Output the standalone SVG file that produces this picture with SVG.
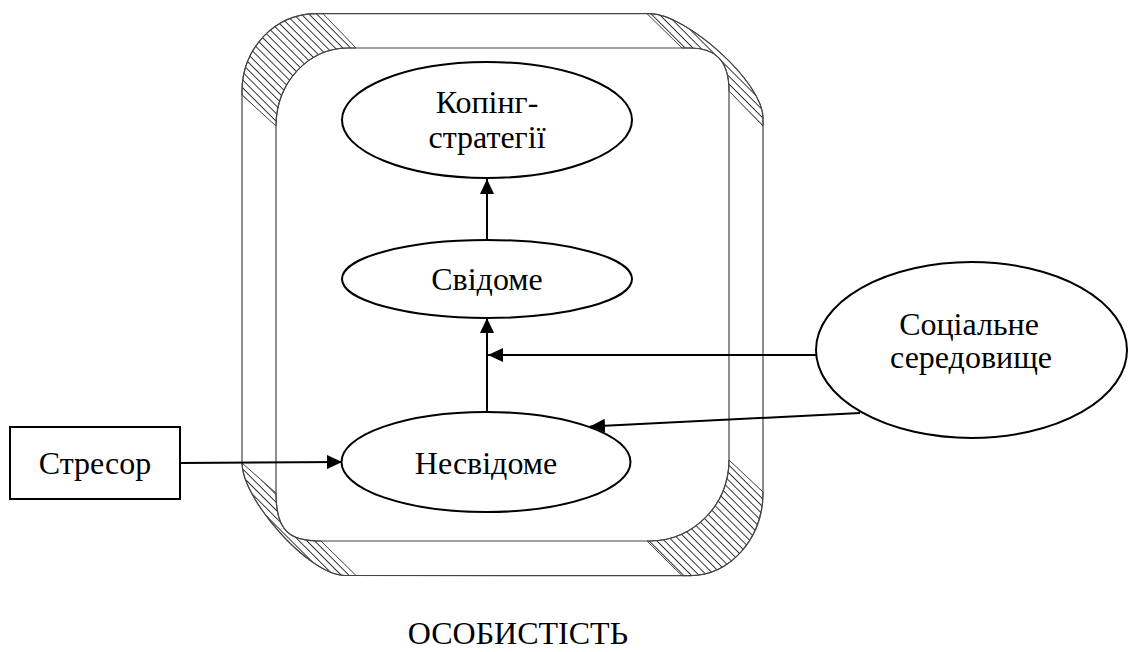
<svg xmlns="http://www.w3.org/2000/svg" width="1128" height="652" viewBox="0 0 1128 652">
  <style>
    .frame { fill: none; stroke: #444; stroke-width: 1.2; }
    .hatch { fill: url(#hatch); stroke: #444; stroke-width: 1; }
    .node { fill: #fff; stroke: #000; stroke-width: 2; }
    .edge { fill: none; stroke: #000; stroke-width: 2; marker-end: url(#arrow); }
    .label { font-family: "Liberation Serif", "Times New Roman", serif; font-size: 32px; fill: #000; text-anchor: middle; }
  </style>
  <defs>
    <pattern id="hatch" patternUnits="userSpaceOnUse" width="5.5" height="5.5" patternTransform="rotate(45)">
      <line x1="0" y1="0.5" x2="5.5" y2="0.5" stroke="#222" stroke-width="0.9"/>
    </pattern>
    <marker id="arrow" markerUnits="userSpaceOnUse" markerWidth="16" markerHeight="14" refX="15" refY="7" orient="auto">
      <path d="M0,0 L15,7 L0,14 Z" fill="#000"/>
    </marker>
  </defs>

  <!-- personality frame: outer and inner rounded outlines with hatched corners -->
  <g id="frame">
    <path class="hatch" d="M323,13.7 L316,13.7 C275,13.7 242,48.6 242,91 L242,95 L276,126 C276,83 308,48 348,48 L356,48 Z"/>
    <path class="hatch" d="M647,13.7 L650,13.7 C686,13.7 763,82 763,118 L763,126 L729,91 C729,60 715,48 690,48 L682,48 Z"/>
    <path class="hatch" d="M242,463 C242,499 309,575.5 345,575.5 L356,575.5 L321,541 C291,541 276,533 276,493 Z"/>
    <path class="hatch" d="M647,541 L650,541 C693.5,541 729,504.5 729,460 L763,492 L763,493 C763,538.5 730,575.7 690,575.7 L682,575.7 Z"/>
    <path class="frame" d="M316,13.7 L650,13.7 C686,13.7 763,82 763,118 L763,493 C763,538.5 730,575.7 690,575.7 L345,575.5 C309,575.5 242,499 242,463 L242,91 C242,48.6 275,13.7 316,13.7 Z"/>
    <path class="frame" d="M348,48 L690,48 C715,48 729,60 729,91 L729,460 C729,504.5 693.5,541 650,541 L321,541 C291,541 276,533 276,493 L276,126 C276,83 308,48 348,48 Z"/>
  </g>

  <!-- connectors -->
  <g id="connectors">
    <line class="edge" x1="180" y1="463" x2="342" y2="462"/>
    <line class="edge" x1="487" y1="412" x2="487" y2="318"/>
    <line class="edge" x1="487" y1="240" x2="487" y2="179"/>
    <line class="edge" x1="816" y1="355" x2="488" y2="355"/>
    <line class="edge" x1="860" y1="413" x2="590" y2="426.5"/>
  </g>

  <g id="node-coping">
    <ellipse class="node" cx="487" cy="120" rx="145" ry="58"/>
    <text class="label" x="487" y="113">Копінг-</text>
    <text class="label" x="487" y="148">стратегії</text>
  </g>

  <g id="node-conscious">
    <ellipse class="node" cx="487" cy="279" rx="145" ry="39"/>
    <text class="label" x="487" y="290">Свідоме</text>
  </g>

  <g id="node-unconscious">
    <ellipse class="node" cx="486" cy="462" rx="144.5" ry="50"/>
    <text class="label" x="486" y="474">Несвідоме</text>
  </g>

  <g id="node-stressor">
    <rect class="node" x="10" y="427" width="170" height="72"/>
    <text class="label" x="95" y="474">Стресор</text>
  </g>

  <g id="node-social">
    <ellipse class="node" cx="971.5" cy="350" rx="155.5" ry="88"/>
    <text class="label" x="969" y="335">Соціальне</text>
    <text class="label" x="971" y="368">середовище</text>
  </g>

  <g id="caption">
    <text class="label" x="628" y="644" style="text-anchor:end">ОСОБИСТІСТЬ</text>
  </g>
</svg>
